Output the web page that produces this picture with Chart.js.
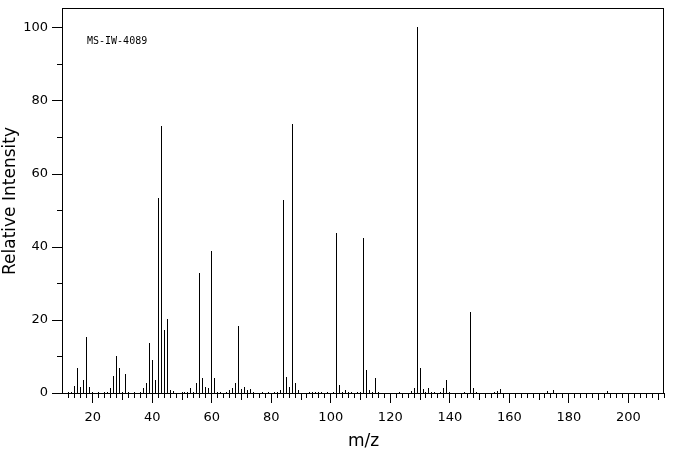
<!DOCTYPE html>
<html>
<head>
<meta charset="utf-8">
<script src="https://cdn.jsdelivr.net/npm/chart.js@4/dist/chart.umd.min.js"></script>
<style>
  body { margin: 0; background: #fff; }
  canvas { display: block; }
</style>
</head>
<body>
<canvas id="spectrum" width="676" height="455"></canvas>
<script>
// m/z values and relative intensities
const mz = [12, 13, 14, 15, 16, 17, 18, 19, 20, 22, 24, 25, 26, 27, 28, 29, 30, 31, 32, 34,
  36, 37, 38, 39, 40, 41, 42, 43, 44, 45, 46, 47, 50, 51, 52, 53, 54, 55, 56, 57,
  58, 59, 60, 61, 62, 63, 65, 66, 67, 68, 69, 70, 71, 72, 73, 74, 77, 79, 81, 82,
  83, 84, 85, 86, 87, 88, 89, 93, 94, 95, 96, 97, 99, 101, 102, 103, 104, 105, 106, 107,
  109, 110, 111, 112, 113, 114, 115, 116, 123, 127, 128, 129, 130, 131, 132, 133, 134, 135, 137, 138,
  139, 140, 145, 147, 148, 149, 155, 156, 157, 173, 175, 193];
const intensity = [0.3, 0.3, 1.9, 6.8, 1.6, 3.6, 15.4, 1.6, 0.3, 0.3, 0.3, 0.3, 1.4, 4.7, 10.1, 6.8, 0.3, 5.2, 0.3, 0.3,
  0.3, 1.4, 2.7, 13.8, 9.0, 3.6, 53.3, 73.1, 17.2, 20.2, 0.8, 0.5, 0.3, 0.2, 0.3, 1.4, 0.3, 2.8, 32.9, 4.2,
  1.6, 1.4, 38.9, 4.1, 0.3, 0.3, 0.3, 0.8, 1.4, 2.8, 18.3, 1.2, 1.6, 0.8, 1.2, 0.3, 0.3, 0.3, 0.3, 0.3,
  0.8, 52.8, 4.4, 1.6, 73.6, 2.7, 0.8, 0.3, 0.3, 0.3, 0.3, 0.3, 0.3, 0.3, 43.7, 2.2, 0.3, 0.8, 0.3, 0.3,
  0.3, 0.3, 42.3, 6.3, 0.8, 0.3, 4.1, 0.3, 0.3, 0.5, 1.4, 100, 6.8, 1.1, 0.3, 1.4, 0.3, 0.3, 0.3, 1.4,
  3.6, 0.3, 0.3, 22.2, 1.4, 0.3, 0.3, 0.5, 1.1, 0.5, 0.8, 0.5];

const xTicks = [20, 40, 60, 80, 100, 120, 140, 160, 180, 200];
const yTicks = [0, 20, 40, 60, 80, 100];
const sampleId = 'MS-IW-4089';

Chart.defaults.font.family = '"DejaVu Sans", sans-serif';
Chart.defaults.color = '#000';

// no extra room for half labels at the ends, the frame is fixed
const noPad = s => { s.paddingTop = 0; s.paddingBottom = 0; s.paddingLeft = 0; s.paddingRight = 0; };

// frame, tick marks and the sample label
const framePlugin = {
  id: 'frame',
  beforeDatasetsDraw(chart) {
    // snap the thin bars to whole pixels so they stay crisp
    chart.getDatasetMeta(0).data.forEach(el => {
      el.x = Math.floor(el.x) + 0.5;
      el.y = Math.round(el.y);
    });
  },
  afterDraw(chart) {
    const { ctx, chartArea: a, scales } = chart;
    const L = Math.round(a.left), R = Math.round(a.right);
    const T = Math.round(a.top), B = Math.round(a.bottom);
    ctx.save();
    ctx.strokeStyle = '#000';
    ctx.lineWidth = 1;
    ctx.strokeRect(L - 0.5, T - 0.5, R - L, B - T + 1);

    ctx.beginPath();
    for (let m = 12; m <= 212; m += 2) {
      const px = Math.floor(scales.x.getPixelForValue(m)) + 0.5;
      const len = m % 20 === 0 ? 10 : (m % 10 === 0 ? 7 : 5);
      ctx.moveTo(px, B);
      ctx.lineTo(px, B + len);
    }
    for (let v = 0; v <= 100; v += 10) {
      const py = Math.round(scales.y.getPixelForValue(v)) + 0.5;
      const len = v % 20 === 0 ? 10 : 5;
      ctx.moveTo(L - 1, py);
      ctx.lineTo(L - 1 - len, py);
    }
    ctx.stroke();

    ctx.fillStyle = '#000';
    ctx.font = '10px "DejaVu Sans Mono", monospace';
    ctx.textBaseline = 'middle';
    ctx.fillText(sampleId, L + 24, T + 32);
    ctx.restore();
  }
};

new Chart(document.getElementById('spectrum'), {
  type: 'bar',
  data: {
    datasets: [{
      data: mz.map((m, i) => ({ x: m, y: intensity[i] })),
      backgroundColor: '#000',
      borderWidth: 0,
      inflateAmount: 0,
      barThickness: 1
    }]
  },
  options: {
    responsive: false,
    devicePixelRatio: 1,
    animation: false,
    layout: { padding: { top: 9, right: 12, left: 0, bottom: 0 } },
    plugins: { legend: { display: false }, tooltip: { enabled: false } },
    scales: {
      x: {
        type: 'linear',
        offset: false,
        min: 10,
        max: 212,
        grid: { display: false, drawTicks: false, offset: false },
        border: { display: false },
        afterBuildTicks: s => { s.ticks = xTicks.map(v => ({ value: v })); },
        afterFit: s => { s.height = 62; noPad(s); },
        ticks: { padding: 17, font: { size: 13 }, maxRotation: 0, autoSkip: false },
        title: { display: true, text: 'm/z', font: { size: 17 }, padding: { top: 0, bottom: 3 } }
      },
      y: {
        min: 0,
        max: 105,
        grid: { display: false, drawTicks: false },
        border: { display: false },
        afterBuildTicks: s => { s.ticks = yTicks.map(v => ({ value: v })); },
        afterFit: s => { s.width = 63; noPad(s); },
        ticks: { padding: 15, font: { size: 13 } },
        title: { display: true, text: 'Relative Intensity', font: { size: 17 }, padding: { top: 0, bottom: 0 } }
      }
    }
  },
  plugins: [framePlugin]
});
</script>
</body>
</html>
